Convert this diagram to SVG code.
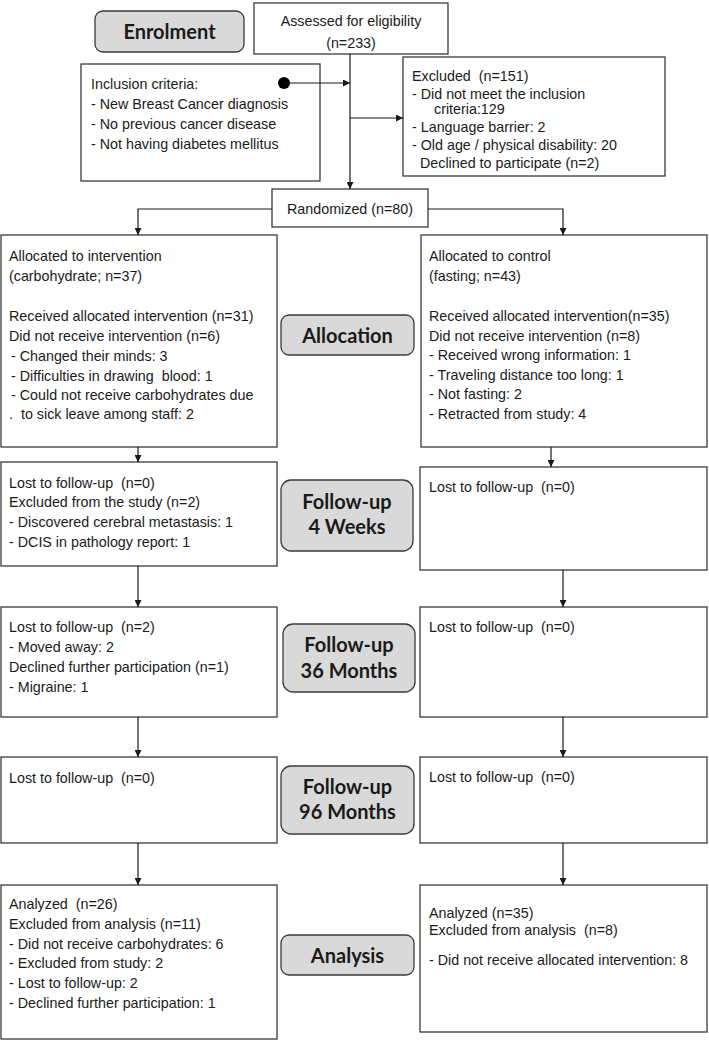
<svg xmlns="http://www.w3.org/2000/svg" width="709" height="1041" viewBox="0 0 709 1041" xml:space="preserve">
<style>
.box{fill:#fff;stroke:#3a3a3a;stroke-width:1.3}
.lbl{fill:#d9d9d9;stroke:#3a3a3a;stroke-width:1.3}
.t{font-family:"Liberation Sans",Arial,sans-serif;font-size:14.3px;fill:#1a1a1a;white-space:pre}
.c{text-anchor:middle}
.b{font-family:Lato,"Open Sans",sans-serif;font-weight:bold;font-size:20px;fill:#1a1a1a;text-anchor:middle}
.ln{fill:none;stroke:#1a1a1a;stroke-width:1.2}
</style>
<defs>
<marker id="ah" viewBox="0 0 10 10" refX="10" refY="5" markerWidth="7" markerHeight="7" markerUnits="userSpaceOnUse" orient="auto">
<path d="M0,0 L10,5 L0,10 z" fill="#1a1a1a"/>
</marker>
</defs>
<rect width="709" height="1041" fill="#fff"/>

<g id="enrolment"><rect class="lbl" x="95" y="11" width="149" height="41" rx="8"/><text class="b" x="169.5" y="39">Enrolment</text></g>

<g id="assessed"><rect class="box" x="254" y="3" width="194" height="51"/>
<text class="t c" x="351" y="26">Assessed for eligibility</text>
<text class="t c" x="351" y="48">(n=233)</text></g>

<g id="inclusion"><rect class="box" x="81" y="64" width="239" height="117"/>
<text class="t" x="91" y="89">Inclusion criteria:</text>
<text class="t" x="91" y="109">- New Breast Cancer diagnosis</text>
<text class="t" x="91" y="129">- No previous cancer disease</text>
<text class="t" x="91" y="149">- Not having diabetes mellitus</text>
<circle cx="284" cy="83" r="6" fill="#000"/></g>

<g id="excluded"><rect class="box" x="403" y="57" width="262" height="119"/>
<text class="t" x="412" y="81">Excluded  (n=151)</text>
<text class="t" x="412" y="99">- Did not meet the inclusion</text>
<text class="t" x="434" y="114">criteria:129</text>
<text class="t" x="412" y="132">- Language barrier: 2</text>
<text class="t" x="412" y="150">- Old age / physical disability: 20</text>
<text class="t" x="420" y="168">Declined to participate (n=2)</text></g>

<g id="randomized"><rect class="box" x="272" y="189" width="156" height="38"/>
<text class="t c" x="350" y="214">Randomized (n=80)</text></g>

<g id="alloc-left"><rect class="box" x="1" y="235" width="276" height="212"/>
<text class="t" x="9" y="261">Allocated to intervention</text>
<text class="t" x="9" y="281">(carbohydrate; n=37)</text>
<text class="t" x="9" y="321">Received allocated intervention (n=31)</text>
<text class="t" x="9" y="341">Did not receive intervention (n=6)</text>
<text class="t" x="11" y="361">- Changed their minds: 3</text>
<text class="t" x="11" y="381">- Difficulties in drawing  blood: 1</text>
<text class="t" x="11" y="400">- Could not receive carbohydrates due</text>
<text class="t" x="9" y="419">.  to sick leave among staff: 2</text></g>

<g id="allocation"><rect class="lbl" x="281" y="315" width="133" height="40" rx="8"/><text class="b" x="347.5" y="343">Allocation</text></g>

<g id="alloc-right"><rect class="box" x="421" y="235" width="286" height="212"/>
<text class="t" x="429" y="261">Allocated to control</text>
<text class="t" x="429" y="281">(fasting; n=43)</text>
<text class="t" x="429" y="321">Received allocated intervention(n=35)</text>
<text class="t" x="429" y="341">Did not receive intervention (n=8)</text>
<text class="t" x="429" y="360">- Received wrong information: 1</text>
<text class="t" x="429" y="380">- Traveling distance too long: 1</text>
<text class="t" x="429" y="399">- Not fasting: 2</text>
<text class="t" x="429" y="419">- Retracted from study: 4</text></g>

<g id="fu1-left"><rect class="box" x="1" y="462" width="276" height="104"/>
<text class="t" x="9" y="488">Lost to follow-up  (n=0)</text>
<text class="t" x="9" y="507">Excluded from the study (n=2)</text>
<text class="t" x="9" y="527">- Discovered cerebral metastasis: 1</text>
<text class="t" x="9" y="547">- DCIS in pathology report: 1</text></g>

<g id="fu1"><rect class="lbl" x="281" y="480" width="132" height="71" rx="10"/>
<text class="b" x="347" y="509">Follow-up</text><text class="b" x="347" y="534">4 Weeks</text></g>

<g id="fu1-right"><rect class="box" x="420" y="467" width="287" height="103"/>
<text class="t" x="429" y="492">Lost to follow-up  (n=0)</text></g>

<g id="fu2-left"><rect class="box" x="1" y="607" width="276" height="110"/>
<text class="t" x="9" y="632">Lost to follow-up  (n=2)</text>
<text class="t" x="9" y="652">- Moved away: 2</text>
<text class="t" x="9" y="672">Declined further participation (n=1)</text>
<text class="t" x="9" y="692">- Migraine: 1</text></g>

<g id="fu2"><rect class="lbl" x="283" y="624" width="132" height="68" rx="10"/>
<text class="b" x="349" y="652">Follow-up</text><text class="b" x="349" y="678">36 Months</text></g>

<g id="fu2-right"><rect class="box" x="420" y="607" width="287" height="110"/>
<text class="t" x="429" y="632">Lost to follow-up  (n=0)</text></g>

<g id="fu3-left"><rect class="box" x="1" y="757" width="276" height="86"/>
<text class="t" x="9" y="783">Lost to follow-up  (n=0)</text></g>

<g id="fu3"><rect class="lbl" x="281" y="766" width="133" height="68" rx="10"/>
<text class="b" x="347.5" y="794">Follow-up</text><text class="b" x="347.5" y="819">96 Months</text></g>

<g id="fu3-right"><rect class="box" x="420" y="757" width="287" height="86"/>
<text class="t" x="429" y="782">Lost to follow-up  (n=0)</text></g>

<g id="an-left"><rect class="box" x="1" y="885" width="276" height="154"/>
<text class="t" x="9" y="909">Analyzed  (n=26)</text>
<text class="t" x="9" y="929">Excluded from analysis (n=11)</text>
<text class="t" x="9" y="949">- Did not receive carbohydrates: 6</text>
<text class="t" x="9" y="968">- Excluded from study: 2</text>
<text class="t" x="9" y="988">- Lost to follow-up: 2</text>
<text class="t" x="9" y="1008">- Declined further participation: 1</text></g>

<g id="analysis"><rect class="lbl" x="281" y="935" width="133" height="40" rx="8"/><text class="b" x="347.5" y="963">Analysis</text></g>

<g id="an-right"><rect class="box" x="420" y="885" width="287" height="147"/>
<text class="t" x="429" y="918">Analyzed (n=35)</text>
<text class="t" x="429" y="935">Excluded from analysis  (n=8)</text>
<text class="t" x="429" y="965">- Did not receive allocated intervention: 8</text></g>

<g id="connectors">
<path class="ln" d="M350,54 V189" marker-end="url(#ah)"/>
<path class="ln" d="M284,83 H350" marker-end="url(#ah)"/>
<path class="ln" d="M350,118 H403" marker-end="url(#ah)"/>
<path class="ln" d="M272,209 H138 V235" marker-end="url(#ah)"/>
<path class="ln" d="M428,209 H563 V235" marker-end="url(#ah)"/>
<path class="ln" d="M138,447 V462" marker-end="url(#ah)"/>
<path class="ln" d="M551,447 V467" marker-end="url(#ah)"/>
<path class="ln" d="M138,566 V607" marker-end="url(#ah)"/>
<path class="ln" d="M563,570 V607" marker-end="url(#ah)"/>
<path class="ln" d="M138,717 V757" marker-end="url(#ah)"/>
<path class="ln" d="M563,717 V757" marker-end="url(#ah)"/>
<path class="ln" d="M138,843 V885" marker-end="url(#ah)"/>
<path class="ln" d="M563,843 V885" marker-end="url(#ah)"/>
</g>
</svg>
